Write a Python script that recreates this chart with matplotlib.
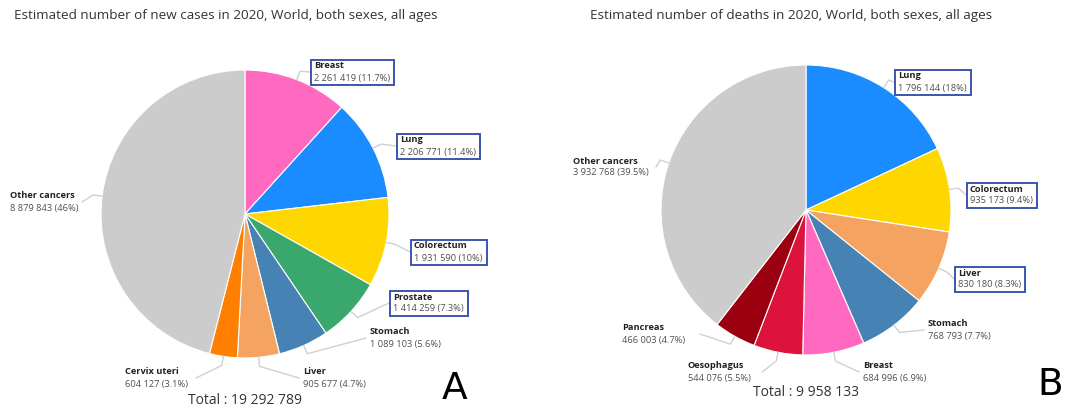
import numpy as np
import matplotlib
matplotlib.use("Agg")
import matplotlib.pyplot as plt
from matplotlib.patches import Rectangle

W, H = 1065, 409

# new cases 2020 (panel A)
cases_names = ["Breast", "Lung", "Colorectum", "Prostate", "Stomach", "Liver", "Cervix uteri", "Other cancers"]
cases_values = [2261419, 2206771, 1931590, 1414259, 1089103, 905677, 604127, 8879843]
cases_colors = ["#ff69c0", "#1a8cff", "#ffd700", "#3aa76d", "#4682b4", "#f4a460", "#ff7f00", "#cccccc"]
cases_boxed = ["Breast", "Lung", "Colorectum", "Prostate"]

# deaths 2020 (panel B)
deaths_names = ["Lung", "Colorectum", "Liver", "Stomach", "Breast", "Oesophagus", "Pancreas", "Other cancers"]
deaths_values = [1796144, 935173, 830180, 768793, 684996, 544076, 466003, 3932768]
deaths_colors = ["#1a8cff", "#ffd700", "#f4a460", "#4682b4", "#ff69c0", "#dc143c", "#9b0010", "#cccccc"]
deaths_boxed = ["Lung", "Colorectum", "Liver"]

plt.rcParams["font.family"] = ["Open Sans", "DejaVu Sans"]


def fmt(n):
    return f"{n:,}".replace(",", " ")


def pct(v, tot):
    s = f"{100 * v / tot:.1f}"
    if s.endswith(".0"):
        s = s[:-2]
    return s + "%"


def y(py):
    return H - py


fig = plt.figure(figsize=(W / 100, H / 100), dpi=100)
ax = fig.add_axes([0, 0, 1, 1])
ax.set_xlim(0, W)
ax.set_ylim(0, H)
boxes = []  # pairs of texts that get a frame


def draw_panel(names, values, colors, boxed, cx, cy, r, label_pos, title, title_x, total_xy, letter_xy, letter):
    tot = sum(values)
    ax.pie(values, colors=colors, startangle=90, counterclock=False,
           center=(cx, y(cy)), radius=r, frame=True,
           wedgeprops=dict(edgecolor="white", linewidth=0.8))
    cum = 0
    for name, v in zip(names, values):
        mid = np.deg2rad(90 - (cum + v / 2) / tot * 360)
        cum += v
        lx, ly, tx = label_pos[name]
        ex, ey = cx + r * np.cos(mid), cy - r * np.sin(mid)
        bx, by = cx + (r + 9) * np.cos(mid), cy - (r + 9) * np.sin(mid)
        ax.plot([ex, bx, lx], [y(ey), y(by), y(ly)], color="#d0d0d0", lw=1.0,
                solid_capstyle="round", zorder=1)
        t1 = ax.text(tx, y(ly - 6), name, ha="left", va="center", fontsize=6.7,
                     fontweight="bold", color="#222222", zorder=5)
        t2 = ax.text(tx, y(ly + 6), fmt(v) + " (" + pct(v, tot) + ")", ha="left", va="center",
                     fontsize=6.7, color="#505050", zorder=5)
        if name in boxed:
            boxes.append((t1, t2))
    ax.text(title_x, y(16), title, ha="left", va="center", fontsize=9.7, color="#333333")
    ax.text(total_xy[0], y(total_xy[1]), "Total : " + fmt(tot), ha="center", va="center",
            fontsize=10, color="#333333")
    ax.text(letter_xy[0], y(letter_xy[1]), letter, ha="center", va="center",
            fontsize=27, color="black", family=["DejaVu Sans"])


# connector end (pixel coords) and text start x
cases_pos = {
    "Breast": (310, 72, 314),
    "Lung": (396, 146, 400),
    "Colorectum": (410, 252, 414),
    "Prostate": (389, 303, 393),
    "Stomach": (366, 338, 370),
    "Liver": (299, 378, 303),
    "Cervix uteri": (196, 378, 125),
    "Other cancers": (82, 202, 10),
}
deaths_pos = {
    "Lung": (894, 82, 898),
    "Colorectum": (966, 195, 970),
    "Liver": (954, 279, 958),
    "Stomach": (924, 330, 928),
    "Breast": (859, 372, 863),
    "Oesophagus": (762, 372, 688),
    "Pancreas": (700, 334, 622),
    "Other cancers": (656, 167, 573),
}

draw_panel(cases_names, cases_values, cases_colors, cases_boxed, 245, 214, 144, cases_pos,
           "Estimated number of new cases in 2020, World, both sexes, all ages", 14,
           (245, 400), (455, 389), "A")
draw_panel(deaths_names, deaths_values, deaths_colors, deaths_boxed, 806, 210, 145, deaths_pos,
           "Estimated number of deaths in 2020, World, both sexes, all ages", 590,
           (806, 393), (1050, 385), "B")

ax.set_xlim(0, W)
ax.set_ylim(0, H)
ax.set_aspect("equal")
ax.axis("off")

# frame the highlighted labels
fig.canvas.draw()
rend = fig.canvas.get_renderer()
inv = ax.transData.inverted()
for t1, t2 in boxes:
    b1 = t1.get_window_extent(rend)
    b2 = t2.get_window_extent(rend)
    x0, y0 = inv.transform((min(b1.x0, b2.x0) - 3, min(b1.y0, b2.y0) - 2))
    x1, y1 = inv.transform((max(b1.x1, b2.x1) + 4, max(b1.y1, b2.y1) + 2))
    ax.add_patch(Rectangle((x0, y0), x1 - x0, y1 - y0, fc="white", ec="#3b55b0",
                           lw=1.4, zorder=3))

fig.savefig("out.png", dpi=100, facecolor="white")
